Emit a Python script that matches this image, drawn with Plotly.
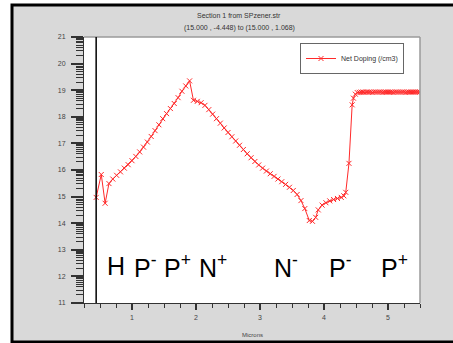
import numpy as np
import plotly.graph_objects as go

# Cut line through the structure: depth (microns) vs log10 of net doping (/cm3)
depth_um = [
    0.44, 0.52, 0.58, 0.64, 0.70, 0.76, 0.82, 0.88, 0.94, 1.00,
    1.06, 1.12, 1.18, 1.24, 1.30, 1.36, 1.42, 1.48, 1.54, 1.60,
    1.66, 1.72, 1.78, 1.84, 1.90, 1.96, 2.02, 2.08, 2.14, 2.20,
    2.26, 2.32, 2.38, 2.44, 2.50, 2.56, 2.62, 2.68, 2.74, 2.80,
    2.86, 2.92, 2.98, 3.04, 3.10, 3.16, 3.22, 3.28, 3.34, 3.40,
    3.46, 3.52, 3.58, 3.64, 3.70, 3.77, 3.82, 3.87, 3.91, 3.97,
    4.03, 4.09, 4.15, 4.21, 4.27, 4.31, 4.34, 4.39, 4.44, 4.46,
    4.49, 4.52, 4.55, 4.58, 4.61, 4.64, 4.67, 4.70, 4.73, 4.76,
    4.79, 4.82, 4.85, 4.88, 4.91, 4.94, 4.97, 5.00, 5.03, 5.06,
    5.09, 5.12, 5.15, 5.18, 5.21, 5.24, 5.27, 5.30, 5.33, 5.36,
    5.39, 5.42, 5.45, 5.48, 5.50,
]
log_net_doping = [
    14.97, 15.83, 14.75, 15.49, 15.66, 15.80, 15.93, 16.07, 16.20, 16.35,
    16.51, 16.68, 16.86, 17.05, 17.26, 17.48, 17.70, 17.93, 18.12, 18.31,
    18.50, 18.72, 18.96, 19.16, 19.35, 18.62, 18.58, 18.53, 18.43, 18.27,
    18.10, 17.93, 17.76, 17.58, 17.41, 17.25, 17.09, 16.93, 16.77, 16.61,
    16.46, 16.32, 16.19, 16.07, 15.96, 15.86, 15.76, 15.66, 15.56, 15.46,
    15.35, 15.23, 15.08, 14.85, 14.55, 14.10, 14.07, 14.22, 14.50, 14.68,
    14.77, 14.84, 14.89, 14.93, 14.97, 15.03, 15.16, 16.25, 18.45, 18.70,
    18.85, 18.91, 18.92, 18.93, 18.93, 18.92, 18.93, 18.93, 18.93, 18.92,
    18.93, 18.93, 18.93, 18.93, 18.92, 18.93, 18.93, 18.93, 18.93, 18.93,
    18.92, 18.93, 18.93, 18.93, 18.93, 18.93, 18.92, 18.93, 18.93, 18.93,
    18.93, 18.93, 18.93, 18.93, 18.93,
]

# Material boundary at the start of the cut line
boundary_um = 0.44

# Region labels: (text, left edge in microns)
region_labels = ["H", "P<sup>-</sup>", "P<sup>+</sup>", "N<sup>+</sup>",
                 "N<sup>-</sup>", "P<sup>-</sup>", "P<sup>+</sup>"]
region_starts = [0.58, 1.00, 1.47, 2.02, 3.19, 4.05, 4.86]

x_ticks = [1, 2, 3, 4, 5]
y_ticks = list(range(11, 22))

title_lines = ["Section 1 from SPzener.str",
               "(15.000 , -4.448) to (15.000 , 1.068)"]

FONT = "Liberation Sans, Arial, sans-serif"
RED = "#ff2a2a"
AXIS = "#333333"

# decade-style minor ticks on the log10 axis
y_minor = [n + np.log10(k) for n in range(11, 21) for k in range(2, 10)]

fig = go.Figure()
fig.add_trace(go.Scatter(
    x=depth_um, y=log_net_doping,
    mode="lines+markers",
    name="Net Doping (/cm3)",
    line=dict(color=RED, width=1),
    marker=dict(symbol="x-thin", size=5, color=RED,
                line=dict(color=RED, width=1)),
))

# plot geometry in pixels (for paper-referenced decorations)
W, H = 453, 343
L, R, T, B = 84, 33, 37, 40
pw, ph = W - L - R, H - T - B


def px(xp):
    return (xp - L) / pw


def py(yp):
    return (H - B - yp) / ph


shapes = [
    # grey window with black frame
    dict(type="rect", xref="paper", yref="paper",
         x0=px(12), x1=px(470), y0=py(342), y1=py(5),
         fillcolor="#d9d9d9", line=dict(color="black", width=3),
         layer="below"),
    # white plotting area
    dict(type="rect", xref="paper", yref="paper",
         x0=0, x1=1, y0=0, y1=1, fillcolor="white",
         line=dict(width=0), layer="below"),
    # top and right edges of the plotting area
    dict(type="line", xref="paper", yref="paper", x0=0, x1=1, y0=1, y1=1,
         line=dict(color="#9a9a9a", width=1.5)),
    dict(type="line", xref="paper", yref="paper", x0=1, x1=1, y0=0, y1=1,
         line=dict(color="#9a9a9a", width=1.5)),
    # boundary marker
    dict(type="line", xref="x", yref="paper", x0=boundary_um, x1=boundary_um,
         y0=0, y1=1, line=dict(color="black", width=1.5)),
]

annotations = [
    dict(text=title_lines[0], xref="paper", yref="paper", x=px(239), y=py(15),
         xanchor="center", yanchor="middle", showarrow=False,
         font=dict(family=FONT, size=7, color="#333")),
    dict(text=title_lines[1], xref="paper", yref="paper", x=px(239), y=py(28),
         xanchor="center", yanchor="middle", showarrow=False,
         font=dict(family=FONT, size=7, color="#333")),
    dict(text="Microns", xref="paper", yref="paper", x=0.5, y=py(335),
         xanchor="center", yanchor="middle", showarrow=False,
         font=dict(family=FONT, size=6, color="#444")),
]
for txt, x0 in zip(region_labels, region_starts):
    annotations.append(dict(
        text=txt, x=x0, y=py(266), xref="x", yref="paper",
        xanchor="left", yanchor="middle", showarrow=False,
        font=dict(family=FONT, size=25, color="black")))

fig.update_layout(
    width=W, height=H,
    margin=dict(l=L, r=R, t=T, b=B, pad=0),
    paper_bgcolor="white",
    plot_bgcolor="white",
    font=dict(family=FONT, size=7, color="#444"),
    showlegend=True,
    legend=dict(x=px(300), y=py(43), xanchor="left", yanchor="top",
                bgcolor="white", bordercolor="#666", borderwidth=1,
                font=dict(family=FONT, size=7, color="#333"),
                itemwidth=30),
    shapes=shapes,
    annotations=annotations,
    xaxis=dict(
        range=[0.25, 5.5], tickmode="array", tickvals=x_ticks,
        ticks="outside", ticklen=6, tickwidth=2, tickcolor=AXIS,
        showline=True, linecolor=AXIS, linewidth=1,
        showgrid=False, zeroline=False, ticklabelstandoff=2,
        tickfont=dict(family=FONT, size=7, color="#444"),
        minor=dict(tickmode="linear", tick0=0, dtick=0.25, ticks="outside",
                   ticklen=4, tickwidth=1, tickcolor=AXIS, showgrid=False),
    ),
    yaxis=dict(
        range=[11, 21], tickmode="array", tickvals=y_ticks,
        ticks="outside", ticklen=12, tickwidth=2, tickcolor=AXIS,
        showline=True, linecolor=AXIS, linewidth=1,
        showgrid=False, zeroline=False, ticklabelstandoff=4,
        tickfont=dict(family=FONT, size=7, color="#444"),
        minor=dict(tickmode="array", tickvals=y_minor, ticks="outside",
                   ticklen=7, tickwidth=1, tickcolor=AXIS, showgrid=False),
    ),
)

fig.write_html("out.html")
